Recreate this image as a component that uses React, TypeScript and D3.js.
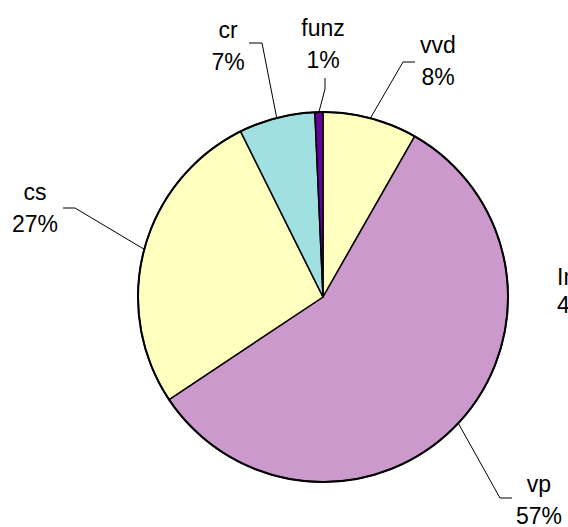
import React from "react";
import * as d3 from "d3";

const categories = ["vvd", "vp", "cs", "cr", "funz"];
const values = [8.25, 57.4, 27.0, 6.65, 0.7];
const pctLabels = ["8%", "57%", "27%", "7%", "1%"];
const colors = ["#FFFFC0", "#CC99CC", "#FFFFC0", "#A0E0E0", "#660099"];
const extraLabel = ["Ind", "4%"];

// layout: leader-line elbow, end, text center, first baseline
const layout = [
  { ex: 403, ey: 62, lx: 415, ly: 62, tx: 438, ty: 53 },
  { ex: 500, ey: 498, lx: 512, ly: 498, tx: 539, ty: 492 },
  { ex: 75, ey: 208, lx: 63, ly: 208, tx: 35, ty: 200 },
  { ex: 262, ey: 43, lx: 249, ly: 43, tx: 228, ty: 38 },
  { ex: 325, ey: 89, lx: 325, ly: 78, tx: 323, ty: 36 },
];

const W = 568;
const H = 527;
const cx = 323;
const cy = 297;
const R = 185;
const FS = 23;
const LINE = 32;

export default function App() {
  const pie = d3.pie<number>().sort(null).value((d) => d)(values);
  const arc = d3.arc<d3.PieArcDatum<number>>().innerRadius(0).outerRadius(R);
  const edge = d3.arc<d3.PieArcDatum<number>>().innerRadius(R).outerRadius(R);
  return (
    <svg
      width={W}
      height={H}
      style={{ position: "absolute", left: 0, top: 0, overflow: "hidden" }}
      fontFamily="'Liberation Sans', Arial, sans-serif"
    >
      <rect width={W} height={H} fill="#fff" />
      <g transform={`translate(${cx},${cy})`}>
        {pie.map((p, i) => (
          <path
            key={i}
            d={arc(p) as string}
            fill={colors[i]}
            stroke="#000"
            strokeWidth={1.5}
            strokeLinejoin="round"
          />
        ))}
        <circle r={R} fill="none" stroke="#000" strokeWidth={2} />
      </g>
      {pie.map((p, i) => {
        const [mx, my] = edge.centroid(p);
        const L = layout[i];
        return (
          <g key={"l" + i}>
            <polyline
              points={`${cx + mx},${cy + my} ${L.ex},${L.ey} ${L.lx},${L.ly}`}
              fill="none"
              stroke="#000"
              strokeWidth={1}
            />
            <text x={L.tx} y={L.ty} textAnchor="middle" fontSize={FS} fill="#000">
              {categories[i]}
            </text>
            <text x={L.tx} y={L.ty + LINE} textAnchor="middle" fontSize={FS} fill="#000">
              {pctLabels[i]}
            </text>
          </g>
        );
      })}
      <text x={557} y={285} fontSize={FS} fill="#000">
        {extraLabel[0]}
      </text>
      <text x={557} y={313} fontSize={FS} fill="#000">
        {extraLabel[1]}
      </text>
    </svg>
  );
}
